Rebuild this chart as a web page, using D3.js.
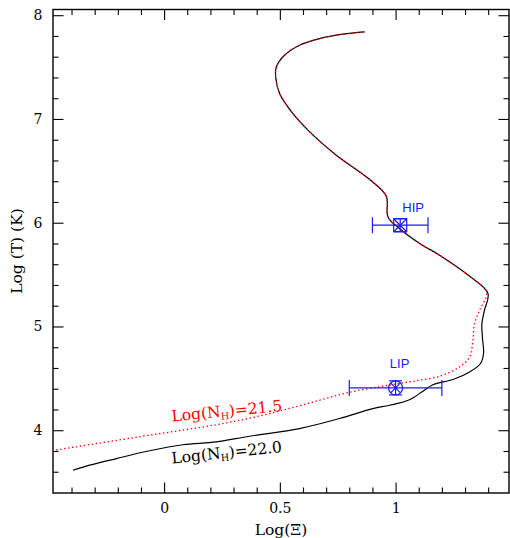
<!DOCTYPE html>
<html>
<head>
<meta charset="utf-8">
<script src="https://cdn.jsdelivr.net/npm/d3@7"></script>
<style>
    body { margin: 0; background: #fff; }
    svg { display: block; }
    .tick-label text { font-family: 'DejaVu Serif', serif; font-size: 14px; fill: #000; }
    .axis-title { font-family: 'DejaVu Serif', serif; font-size: 15.5px; fill: #000; }
    .curve-label { font-family: 'DejaVu Serif', serif; font-size: 15.5px; }
    .point-label { font-family: 'Liberation Sans', Arial, sans-serif; font-size: 13px; fill: #1a1aff; }
</style>
</head>
<body>
<svg id="chart" width="510" height="538"></svg>
<script>
// Log(N_H)=22.0 model track (bottom-left end -> top end)
const nh22X = [-0.394, -0.322, -0.206, -0.063, 0.081, 0.225, 0.369, 0.585, 0.758, 0.902, 0.974, 1.060, 1.118, 1.161,
    1.248, 1.320, 1.367, 1.380, 1.375, 1.373, 1.384, 1.399, 1.320, 1.190, 1.104, 1.017, 0.967, 0.960, 0.888, 0.744,
    0.629, 0.556, 0.499, 0.482, 0.485, 0.520, 0.585, 0.672, 0.772, 0.866];
const nh22Y = [3.614, 3.663, 3.727, 3.802, 3.860, 3.887, 3.942, 4.016, 4.113, 4.209, 4.241, 4.294, 4.376, 4.439,
    4.489, 4.562, 4.643, 4.739, 4.899, 5.028, 5.157, 5.318, 5.484, 5.687, 5.800, 5.944, 6.056, 6.255, 6.416, 6.651,
    6.876, 7.053, 7.245, 7.405, 7.502, 7.614, 7.711, 7.775, 7.817, 7.839];

// Log(N_H)=21.5 model track
const nh215X = [-0.483, -0.063, 0.225, 0.369, 0.513, 0.657, 0.801, 0.945, 1.060, 1.104, 1.190, 1.276, 1.320, 1.334,
    1.341, 1.363, 1.391, 1.391, 1.320, 1.190, 1.104, 1.017, 0.967, 0.960, 0.888, 0.744, 0.629, 0.556, 0.499, 0.482,
    0.485, 0.520, 0.585, 0.672, 0.772, 0.866];
const nh215Y = [3.804, 3.952, 4.053, 4.116, 4.193, 4.280, 4.366, 4.424, 4.466, 4.482, 4.520, 4.610, 4.706, 4.867,
    5.028, 5.157, 5.285, 5.349, 5.484, 5.687, 5.800, 5.944, 6.056, 6.255, 6.416, 6.651, 6.876, 7.053, 7.245, 7.405,
    7.502, 7.614, 7.711, 7.775, 7.817, 7.839];

// absorber components: name, log(xi), xi error, log(T), T error, marker
const compNames = ['HIP', 'LIP'];
const compXi = [1.02, 1.00];
const compXiErr = [0.12, 0.20];
const compT = [5.976, 4.408];
const compTErr = [0.063, 0.068];
const compMarker = ['square', 'circle'];

// axis ticks
const xMajorTicks = [0, 0.5, 1];
const xMinorTicks = [-0.4, -0.3, -0.2, -0.1, 0.1, 0.2, 0.3, 0.4, 0.6, 0.7, 0.8, 0.9, 1.1, 1.2, 1.3, 1.4];
const yMajorTicks = [4, 5, 6, 7, 8];
const yMinorTicks = [3.6, 3.8, 4.2, 4.4, 4.6, 4.8, 5.2, 5.4, 5.6, 5.8, 6.2, 6.4, 6.6, 6.8, 7.2, 7.4, 7.6, 7.8];

const LEFT = 53, RIGHT = 509, TOP = 9.5, BOTTOM = 493;
const MAJOR = 10.5, MINOR = 5.5;
const BLUE = '#1a1aff';

const svg = d3.select('#chart');

const x = d3.scaleLinear().domain([-0.48, 1.49]).range([LEFT, RIGHT]);
const y = d3.scaleLinear().domain([3.395, 8.055]).range([BOTTOM, TOP]);

// ticks on all four sides, pointing inwards
function tickAxis(axisFn, values, size, labelled, transform) {
    const g = svg.append('g')
        .attr('class', labelled ? 'tick-label' : null)
        .attr('transform', transform)
        .call(
            axisFn
                .tickValues(values)
                .tickSizeInner(-size)
                .tickSizeOuter(0)
                .tickPadding(labelled ? 10.5 : 0)
                .tickFormat(labelled ? d3.format('') : () => '')
        );
    g.select('.domain').remove();
    g.selectAll('.tick line').attr('stroke', '#000').attr('stroke-width', 1.1);
    return g;
}

tickAxis(d3.axisBottom(x), xMajorTicks, MAJOR, true, `translate(0,${BOTTOM})`);
tickAxis(d3.axisBottom(x), xMinorTicks, MINOR, false, `translate(0,${BOTTOM})`);
tickAxis(d3.axisTop(x), xMajorTicks, MAJOR, false, `translate(0,${TOP})`);
tickAxis(d3.axisTop(x), xMinorTicks, MINOR, false, `translate(0,${TOP})`);
tickAxis(d3.axisLeft(y), yMajorTicks, MAJOR, true, `translate(${LEFT},0)`);
tickAxis(d3.axisLeft(y), yMinorTicks, MINOR, false, `translate(${LEFT},0)`);
tickAxis(d3.axisRight(y), yMajorTicks, MAJOR, false, `translate(${RIGHT},0)`);
tickAxis(d3.axisRight(y), yMinorTicks, MINOR, false, `translate(${RIGHT},0)`);

svg.append('rect')
    .attr('x', LEFT).attr('y', TOP)
    .attr('width', RIGHT - LEFT).attr('height', BOTTOM - TOP)
    .attr('fill', 'none').attr('stroke', '#000').attr('stroke-width', 1.4);

// axis titles
svg.append('text')
    .attr('class', 'axis-title')
    .attr('x', 281).attr('y', 530)
    .attr('text-anchor', 'middle')
    .attr('dominant-baseline', 'central')
    .text('Log(\u039E)');

svg.append('text')
    .attr('class', 'axis-title')
    .attr('transform', 'translate(17,251) rotate(-90)')
    .attr('text-anchor', 'middle')
    .attr('dominant-baseline', 'central')
    .text('Log (T) (K)');

// model curves
svg.append('clipPath').attr('id', 'plot-clip')
    .append('rect')
    .attr('x', LEFT).attr('y', TOP)
    .attr('width', RIGHT - LEFT).attr('height', BOTTOM - TOP);

const line = d3.line()
    .x(d => x(d[0]))
    .y(d => y(d[1]))
    .curve(d3.curveCatmullRom.alpha(0.5));

const curves = svg.append('g').attr('clip-path', 'url(#plot-clip)');

curves.append('path')
    .datum(nh22X.map((d, i) => [d, nh22Y[i]]))
    .attr('d', line)
    .attr('fill', 'none')
    .attr('stroke', '#000')
    .attr('stroke-width', 1.2);

curves.append('path')
    .datum(nh215X.map((d, i) => [d, nh215Y[i]]))
    .attr('d', line)
    .attr('fill', 'none')
    .attr('stroke', '#ff0000')
    .attr('stroke-width', 1.3)
    .attr('stroke-dasharray', '1.4,2.6');

// curve labels
function curveLabel(px, py, angle, color, value) {
    const t = svg.append('text')
        .attr('class', 'curve-label')
        .attr('transform', `translate(${px},${py}) rotate(${angle})`)
        .attr('fill', color);
    t.append('tspan').text('Log(N');
    t.append('tspan').attr('font-size', '9.5px').attr('dy', 3).text('H');
    t.append('tspan').attr('dy', -3).text(')=' + value);
}

curveLabel(172, 421.5, -5.5, '#ff0000', '21.5');
curveLabel(172, 463.5, -6, '#000', '22.0');

// absorber components with error bars
const comps = svg.append('g')
    .selectAll('g')
    .data(compNames.map((d, i) => ({
        name: d, xi: compXi[i], xiErr: compXiErr[i], t: compT[i], tErr: compTErr[i], marker: compMarker[i]
    })))
    .enter()
    .append('g')
    .attr('stroke', BLUE)
    .attr('fill', 'none')
    .attr('stroke-width', 1.2);

comps.each(function (d) {
    const g = d3.select(this);
    const cx = x(d.xi), cy = y(d.t);
    const x0 = x(d.xi - d.xiErr), x1 = x(d.xi + d.xiErr);
    const y0 = y(d.t - d.tErr), y1 = y(d.t + d.tErr);
    const capH = 8, capW = 6.5;

    // horizontal error bar with end caps
    g.append('line').attr('x1', x0).attr('x2', x1).attr('y1', cy).attr('y2', cy);
    g.append('line').attr('x1', x0).attr('x2', x0).attr('y1', cy - capH).attr('y2', cy + capH);
    g.append('line').attr('x1', x1).attr('x2', x1).attr('y1', cy - capH).attr('y2', cy + capH);
    // vertical error bar with end caps
    g.append('line').attr('x1', cx).attr('x2', cx).attr('y1', y0).attr('y2', y1);
    g.append('line').attr('x1', cx - capW).attr('x2', cx + capW).attr('y1', y0).attr('y2', y0);
    g.append('line').attr('x1', cx - capW).attr('x2', cx + capW).attr('y1', y1).attr('y2', y1);

    if (d.marker === 'square') {
        const s = 6.5;
        g.append('rect').attr('x', cx - s).attr('y', cy - s).attr('width', 2 * s).attr('height', 2 * s);
        g.append('line').attr('x1', cx - s).attr('y1', cy - s).attr('x2', cx + s).attr('y2', cy + s);
        g.append('line').attr('x1', cx - s).attr('y1', cy + s).attr('x2', cx + s).attr('y2', cy - s);
    } else {
        const r = 7;
        g.append('circle').attr('cx', cx).attr('cy', cy).attr('r', r);
        [45, 135].forEach(a => {
            const dx = r * Math.cos(a * Math.PI / 180), dy = r * Math.sin(a * Math.PI / 180);
            g.append('line').attr('x1', cx - dx).attr('y1', cy - dy).attr('x2', cx + dx).attr('y2', cy + dy);
        });
    }

    svg.append('text')
        .attr('class', 'point-label')
        .attr('x', cx + (d.marker === 'square' ? 13 : 4))
        .attr('y', cy - (d.marker === 'square' ? 13 : 20))
        .attr('text-anchor', 'middle')
        .text(d.name);
});
</script>
</body>
</html>
